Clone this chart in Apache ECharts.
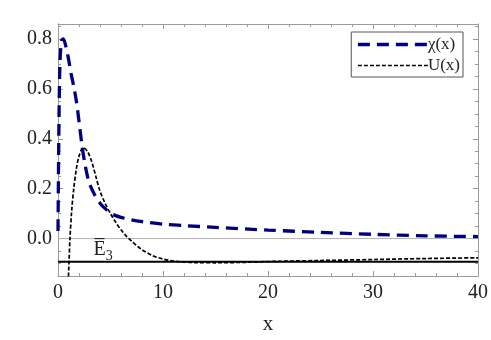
<!DOCTYPE html>
<html>
<head>
<meta charset="utf-8">
<script src="https://cdn.jsdelivr.net/npm/echarts@6/dist/echarts.min.js"></script>
<style>
  html, body { margin: 0; padding: 0; background: #fff; }
  #chartDom { width: 491px; height: 340px; }
</style>
</head>
<body>
<div id="chartDom"></div>
<script>
// chi(x) curve: [x, y]
const chiData = [
  [0, 0.03], [0.1, 0.5], [0.2, 0.72], [0.35, 0.795], [0.5, 0.8], [0.75, 0.77],
  [1, 0.72], [1.25, 0.66], [1.5, 0.61], [1.75, 0.55], [2, 0.47], [2.25, 0.385],
  [2.5, 0.315], [2.75, 0.26], [3, 0.22], [3.5, 0.175], [4, 0.142], [4.5, 0.12],
  [5, 0.103], [5.5, 0.092], [6, 0.085], [7, 0.075], [8, 0.068], [10, 0.058],
  [12, 0.052], [15, 0.045], [20, 0.034], [25, 0.025], [30, 0.017], [35, 0.011], [40, 0.008]
];
// U(x) curve
const uData = [
  [0.95, -0.2], [1.05, -0.093], [1.14, 0], [1.3, 0.11], [1.5, 0.2], [1.75, 0.28],
  [2, 0.33], [2.4, 0.365], [2.8, 0.35], [3.2, 0.31], [3.6, 0.25], [4, 0.19],
  [4.5, 0.14], [5, 0.1], [5.5, 0.065], [6, 0.035], [6.5, 0.01], [7, -0.01],
  [8, -0.045], [9, -0.068], [10, -0.082], [11, -0.09], [12, -0.094], [13, -0.096],
  [15, -0.097], [18, -0.095], [20, -0.092], [25, -0.088], [30, -0.084], [35, -0.08], [40, -0.077]
];
const E3 = -0.093;
const E3LabelX = 4.3;
const xRange = [0, 40];
const yLabels = [0, 0.2, 0.4, 0.6, 0.8];
const yMinor = [-0.15, -0.1, -0.05, 0.05, 0.1, 0.15, 0.25, 0.3, 0.35, 0.45, 0.5, 0.55, 0.65, 0.7, 0.75, 0.85];

const serif = 'Liberation Serif';
const frameColor = '#9a9a9a';

function yAx(pos, showLabel, ticks, len) {
  return {
    type: 'value', position: pos, min: -0.15, max: 0.86,
    axisLine: { show: true, lineStyle: { color: frameColor } },
    axisTick: { show: true, inside: true, length: len, customValues: ticks, lineStyle: { color: frameColor } },
    axisLabel: {
      show: showLabel, customValues: yLabels, margin: 6,
      fontFamily: serif, fontSize: 20, color: '#222',
      formatter: v => v.toFixed(1)
    },
    splitLine: { show: false }
  };
}
function xAx(pos, showLabel) {
  return {
    type: 'value', position: pos, min: xRange[0], max: xRange[1], interval: 10,
    name: showLabel ? 'x' : '', nameLocation: 'middle', nameGap: 38,
    nameTextStyle: { fontFamily: serif, fontSize: 21, color: '#222' },
    axisLine: { show: true, onZero: false, lineStyle: { color: frameColor } },
    axisTick: { show: true, inside: true, length: 5, lineStyle: { color: frameColor } },
    minorTick: { show: true, splitNumber: 5, length: 3, lineStyle: { color: frameColor } },
    axisLabel: { show: showLabel, margin: 7, fontFamily: serif, fontSize: 20, color: '#222' },
    splitLine: { show: false }
  };
}

const option = {
  animation: false,
  grid: { left: 58, right: 12, top: 24, bottom: 55 },
  legend: {
    data: [
      { name: '\u03c7(x)', lineStyle: { width: 3.3, type: [12, 7], color: '#00007f' } },
      { name: 'U(x)', lineStyle: { width: 1.7, type: [4, 2], color: '#000' } }
    ],
    orient: 'vertical', right: 28, top: 32,
    itemWidth: 70, itemHeight: 16, itemGap: 4,
    itemStyle: { opacity: 0 },
    backgroundColor: '#fff', borderColor: '#555', borderWidth: 1, borderRadius: 0,
    padding: [4, 3, 3, 5],
    textStyle: { fontFamily: serif, fontSize: 17, color: '#222', padding: [0, 0, 0, -5] }
  },
  xAxis: [xAx('bottom', true), xAx('top', false)],
  yAxis: [
    yAx('left', true, yLabels, 5),
    yAx('left', false, yMinor, 3),
    yAx('right', false, yLabels, 5),
    yAx('right', false, yMinor, 3)
  ],
  series: [
    {
      name: 'zero', type: 'line', symbol: 'none', silent: true,
      data: [[xRange[0], 0], [xRange[1], 0]],
      lineStyle: { color: '#b0b0b0', width: 1 }
    },
    {
      name: 'E3', type: 'line', symbol: 'none', silent: true,
      data: [[xRange[0], E3], [xRange[1], E3]],
      lineStyle: { color: '#000', width: 2 },
      markPoint: {
        symbol: 'circle', symbolSize: 0,
        data: [{ coord: [E3LabelX, E3] }],
        label: {
          show: true, position: 'top', distance: 2,
          formatter: '{e|E\u0305}{s|3}',
          rich: {
            e: { fontFamily: serif, fontSize: 20, color: '#222', verticalAlign: 'bottom' },
            s: { fontFamily: serif, fontSize: 14, color: '#222', verticalAlign: 'bottom', padding: [0, 0, -4, 0] }
          }
        }
      }
    },
    {
      name: 'U(x)', type: 'line', symbol: 'none', smooth: 0.3, data: uData,
      lineStyle: { color: '#000', width: 1.7, type: [4, 2] }, itemStyle: { color: '#000' }
    },
    {
      name: '\u03c7(x)', type: 'line', symbol: 'none', smooth: 0.3, data: chiData,
      lineStyle: { color: '#00007f', width: 3.3, type: [12, 7] }, itemStyle: { color: '#00007f' }
    }
  ]
};

const myChart = echarts.init(document.getElementById('chartDom'));
myChart.setOption(option);
</script>
</body>
</html>
